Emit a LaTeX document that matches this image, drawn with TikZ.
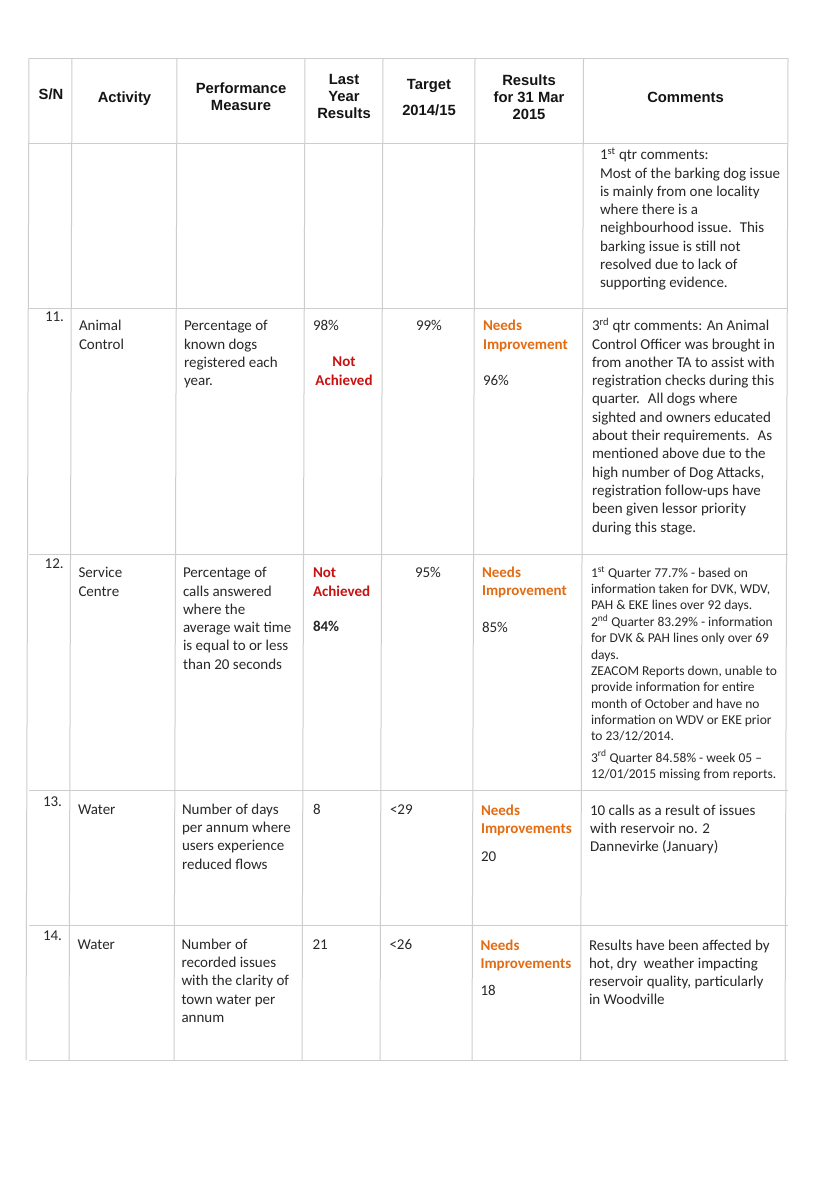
\documentclass[tikz,border=0pt]{standalone}
\usepackage{fontspec}
\newfontfamily\carlito{Carlito}
\newfontfamily\arialish{Liberation Sans}
\definecolor{txt}{RGB}{40,40,40}
\definecolor{hdrtxt}{RGB}{20,20,20}
\definecolor{gridc}{RGB}{205,205,205}
\definecolor{nared}{RGB}{200,18,18}
\definecolor{niorange}{RGB}{226,108,20}
\newcommand\bodyfnt{\carlito\fontsize{15}{18.3}\selectfont}
\newcommand\smallfnt{\carlito\fontsize{13.5}{16.3}\selectfont}
\newcommand\hdrfnt{\arialish\bfseries\fontsize{14.8}{17}\selectfont}
\newcommand\tl[1]{\begin{tabular}[t]{@{}l@{}}#1\end{tabular}}
\newcommand\tc[1]{\begin{tabular}[t]{@{}c@{}}#1\end{tabular}}
\tikzset{
  body/.style={anchor=base west, inner sep=0pt, outer sep=0pt, font=\bodyfnt, text=txt},
  smallbody/.style={body, font=\smallfnt},
  hdr/.style={anchor=base, inner sep=0pt, outer sep=0pt, font=\hdrfnt, text=hdrtxt},
  redb/.style={body, font=\bodyfnt\bfseries, text=nared},
  orab/.style={body, font=\bodyfnt\bfseries, text=niorange},
  gridline/.style={draw=gridc, line width=1pt},
}
\begin{document}
\begin{tikzpicture}[x=1pt,y=-1pt]
\useasboundingbox[fill=white] (0,0) rectangle (816,1185);
% grid
\foreach \xt in {29,72,177,305,383,475,583.5,788}{
  \draw[gridline] (\xt,58.3) -- ({\xt-3},1060);
}
\foreach \yy in {58.3,143.3,308.3,554.5,790.7,925.7,1060}{
  \draw[gridline] (28.5,\yy) -- (787.5,\yy);
}
% header
\node[hdr] (hsn) at (51,99.5) {S/N};
\node[hdr] (hact) at (124.5,102.5) {Activity};
\node[hdr] (hpm) at (241,94) {\tc{Performance\\Measure}};
\node[hdr] (hly) at (344,85) {\tc{Last\\Year\\Results}};
\node[hdr] (htg) at (429,89.3) {\tc{Target\\[9pt]2014/15}};
\node[hdr] (hres) at (529,85.7) {\tc{Results\\for 31 Mar\\2015}};
\node[hdr] (hcom) at (685.5,102.7) {Comments};
% continuation row
\node[body] (c0) at (600,159.8) {\tl{1\textsuperscript{st} qtr comments:\\Most of the barking dog issue\\is mainly from one locality\\where there is a\\neighbourhood issue.~ This\\barking issue is still not\\resolved due to lack of\\supporting evidence.}};
% row 11
\node[body] (n11) at (45,321.7) {11.};
\node[body] (a11) at (79,330.7) {\tl{Animal\\Control}};
\node[body] (p11) at (184,330.7) {\tl{Percentage of\\known dogs\\registered each\\year.}};
\node[body] (l11) at (313,330.7) {98\%};
\node[redb, anchor=base] (l11b) at (344,366.7) {\tc{Not\\Achieved}};
\node[body] (t11) at (416,330.7) {99\%};
\node[orab] (r11) at (483,330.7) {\tl{Needs\\Improvement}};
\node[body] (r11b) at (483,385.5) {96\%};
\node[body] (c11) at (592,330.7) {\tl{3\textsuperscript{rd} qtr comments: An Animal\\Control Officer was brought in\\from another TA to assist with\\registration checks during this\\quarter.~ All dogs where\\sighted and owners educated\\about their requirements.~ As\\mentioned above due to the\\high number of Dog Attacks,\\registration follow-ups have\\been given lessor priority\\during this stage.}};
% row 12
\node[body] (n12) at (44.7,568.3) {12.};
\node[body] (a12) at (78.5,577.7) {\tl{Service\\Centre}};
\node[body] (p12) at (183,577.7) {\tl{Percentage of\\calls answered\\where the\\average wait time\\is equal to or less\\than 20 seconds}};
\node[redb] (l12) at (313,577.7) {\tl{Not\\Achieved}};
\node[body, font=\bodyfnt\bfseries] (l12b) at (313,631.7) {84\%};
\node[body] (t12) at (415,577.3) {95\%};
\node[orab] (r12) at (482,577.3) {\tl{Needs\\Improvement}};
\node[body] (r12b) at (482,632) {85\%};
\node[smallbody] (c12) at (591,577.3) {\tl{1\textsuperscript{st} Quarter 77.7\% - based on\\information taken for DVK, WDV,\\PAH \& EKE lines over 92 days.\\2\textsuperscript{nd} Quarter 83.29\% - information\\for DVK \& PAH lines only over 69\\days.\\ZEACOM Reports down, unable to\\provide information for entire\\month of October and have no\\information on WDV or EKE prior\\to 23/12/2014.\\[4.7pt]3\textsuperscript{rd} Quarter 84.58\% - week 05 –\\12/01/2015 missing from reports.}};
% row 13
\node[body] (n13) at (43,806) {13.};
\node[body] (a13) at (78,814.3) {Water};
\node[body] (p13) at (182,814.3) {\tl{Number of days\\per annum where\\users experience\\reduced flows}};
\node[body] (l13) at (313,814.3) {8};
\node[body] (t13) at (390,814.3) {<29};
\node[orab] (r13) at (481,815) {\tl{Needs\\Improvements}};
\node[body] (r13b) at (481,861) {20};
\node[body] (c13) at (590,815) {\tl{10 calls as a result of issues\\with reservoir no. 2\\Dannevirke (January)}};
% row 14
\node[body] (n14) at (43,940.7) {14.};
\node[body] (a14) at (77.5,949.3) {Water};
\node[body] (p14) at (181.5,949.3) {\tl{Number of\\recorded issues\\with the clarity of\\town water per\\annum}};
\node[body] (l14) at (312.5,949.3) {21};
\node[body] (t14) at (389.5,949.3) {<26};
\node[orab] (r14) at (480.5,950) {\tl{Needs\\Improvements}};
\node[body] (r14b) at (480.5,995.7) {18};
\node[body] (c14) at (589,950) {\tl{Results have been affected by\\hot, dry~ weather impacting\\reservoir quality, particularly\\in Woodville}};
\end{tikzpicture}
\end{document}
